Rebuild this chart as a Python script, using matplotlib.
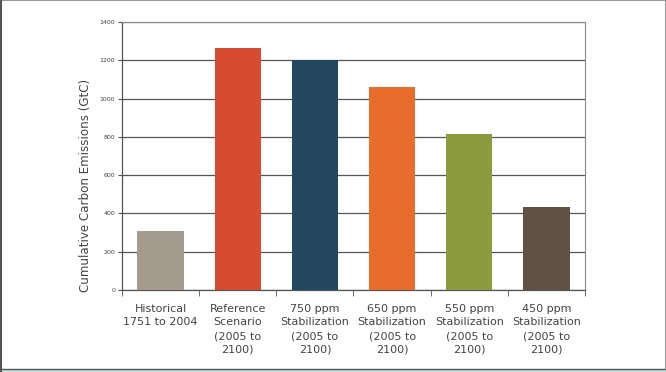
import matplotlib
matplotlib.use("Agg")
import matplotlib.pyplot as plt
from matplotlib.patches import Rectangle

categories = ["Historical\n1751 to 2004", "Reference\nScenario\n(2005 to\n2100)",
              "750 ppm\nStabilization\n(2005 to\n2100)", "650 ppm\nStabilization\n(2005 to\n2100)",
              "550 ppm\nStabilization\n(2005 to\n2100)", "450 ppm\nStabilization\n(2005 to\n2100)"]
values = [310, 1265, 1200, 1062, 815, 433]
colors = ["#A59A8E", "#D64B32", "#22475E", "#E86C2C", "#8C9B3E", "#5F5244"]
yticks = [0, 200, 400, 600, 800, 1000, 1200, 1400]

fig = plt.figure(figsize=(6.66, 3.72), dpi=100)
fig.patch.set_facecolor("white")
ax = fig.add_axes([122/666, 1-290/372, 463/666, 268/372])

x = list(range(len(values)))
ax.set_axisbelow(True)
ax.yaxis.grid(True, color="#555555", linewidth=0.9)
ax.bar(x, values, width=0.6, color=colors, zorder=3)

ax.set_xlim(-0.5, len(values) - 0.5)
ax.set_ylim(0, 1400)
ax.set_yticks(yticks)
ax.set_yticklabels([str(v) for v in yticks], fontsize=4.5, color="#444444")
ax.set_xticks(x)
ax.set_xticklabels(categories, fontsize=8, color="#444444", linespacing=1.45)
ax.tick_params(axis="x", length=0, pad=10)
ax.set_xticks([i - 0.5 for i in range(len(values) + 1)], minor=True)
ax.tick_params(axis="x", which="minor", length=4, color="#555555", direction="out")
ax.tick_params(axis="y", length=3, color="#555555", pad=2)
ax.set_ylabel("Cumulative Carbon Emissions (GtC)", fontsize=8.6, color="#444444")
ax.yaxis.set_label_coords(-0.064, 0.39)

for s in ["top", "right"]:
    ax.spines[s].set_color("#888888")
    ax.spines[s].set_linewidth(0.8)
for s in ["left", "bottom"]:
    ax.spines[s].set_color("#555555")
    ax.spines[s].set_linewidth(0.9)

# outer frame and bottom strip
fig.patches.append(Rectangle((0, 0), 1, 1, transform=fig.transFigure, fill=False,
                             edgecolor="#999999", linewidth=1.5))
fig.lines.append(plt.Line2D([0.5/666, 0.5/666], [0, 1], transform=fig.transFigure,
                            color="#555555", linewidth=1.5))
fig.patches.append(Rectangle((0, 0), 1, 3/372, transform=fig.transFigure,
                             facecolor="#BFE3DA", edgecolor="none"))
fig.lines.append(plt.Line2D([0, 1], [3.5/372, 3.5/372], transform=fig.transFigure,
                            color="#555555", linewidth=1))

fig.savefig("out.png", dpi=100)
